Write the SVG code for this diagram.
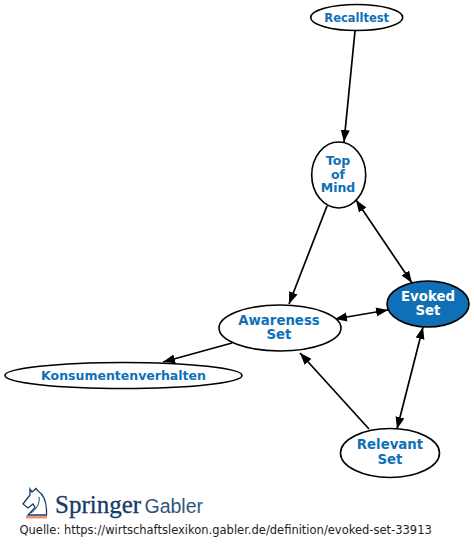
<svg xmlns="http://www.w3.org/2000/svg" width="474" height="550" viewBox="0 0 474 550">
<style>
.n{fill:#fff;stroke:#000;stroke-width:1.6}
.t{font-family:"DejaVu Sans",sans-serif;font-weight:bold;font-size:13.3px;fill:#0f70b7;text-anchor:middle}
.c{fill:none;stroke:#000;stroke-width:1.7;marker-end:url(#a)}
.b{marker-start:url(#a)}
</style>
<defs><marker id="a" markerUnits="userSpaceOnUse" markerWidth="13" markerHeight="11" refX="12" refY="5" orient="auto-start-reverse"><path d="M0 0.500L12 5L0 9.500z" fill="#000"/></marker></defs>
<rect width="474" height="550" fill="#fff"/>
<g id="connectors">
<path class="c" d="M355 31L344 142"/>
<path class="c" d="M327 206L289 304"/>
<path class="c b" d="M356 200L412 283"/>
<path class="c b" d="M335 319L388 310"/>
<path class="c" d="M232 343L163 362"/>
<path class="c" d="M369 429L300 353"/>
<path class="c b" d="M397 429L423 327"/>
</g>
<g id="recalltest"><ellipse class="n" cx="356.700" cy="17.500" rx="46" ry="13"/><text class="t" x="356.700" y="21.800" style="font-size:11.500px">Recalltest</text></g>
<g id="top-of-mind"><ellipse class="n" cx="338.700" cy="175" rx="27" ry="33"/><text class="t" x="338" y="165" style="font-size:12.500px">Top</text><text class="t" x="338" y="178.500" style="font-size:12.500px">of</text><text class="t" x="338" y="192" style="font-size:12.500px">Mind</text></g>
<g id="awareness-set"><ellipse class="n" cx="280" cy="328" rx="61" ry="23"/><text class="t" x="279" y="325">Awareness</text><text class="t" x="279" y="339">Set</text></g>
<g id="evoked-set"><ellipse cx="428" cy="304" rx="41" ry="23" fill="#0f70b7" stroke="#000" stroke-width="1.600"/><text class="t" x="428" y="301" style="fill:#fff">Evoked</text><text class="t" x="428" y="314.500" style="fill:#fff">Set</text></g>
<g id="konsumentenverhalten"><ellipse class="n" cx="123.500" cy="375.500" rx="118.500" ry="13"/><text class="t" x="123.500" y="379.500" style="font-size:12.500px">Konsumentenverhalten</text></g>
<g id="relevant-set"><ellipse class="n" cx="390" cy="453" rx="49.500" ry="24.500"/><text class="t" x="390" y="449">Relevant</text><text class="t" x="390" y="464">Set</text></g>
<g id="logo">
<path d="M30 489L32 492L36 488.500L38 491C43 494 47 502 46.500 515L28 515L35 507.500L33 504L28 508L23 504L30 495Z" fill="none" stroke="#173b66" stroke-width="1.300"/>
<path d="M31 513C37 509 40 503 39 497" fill="none" stroke="#173b66" stroke-width="1"/>
<rect x="26" y="516" width="21" height="2.500" fill="#f0936a"/>
<text x="55" y="513" font-family="Liberation Serif,serif" font-size="25" fill="#173b66" stroke="#173b66" stroke-width="0.300">Springer</text>
<text x="144.500" y="513" font-family="Liberation Sans,sans-serif" font-size="19.500" fill="#2f5679">Gabler</text>
</g>
<text x="19.500" y="534" font-family="DejaVu Sans,sans-serif" font-size="11.500" fill="#222">Quelle: https://wirtschaftslexikon.gabler.de/definition/evoked-set-33913</text>
</svg>
